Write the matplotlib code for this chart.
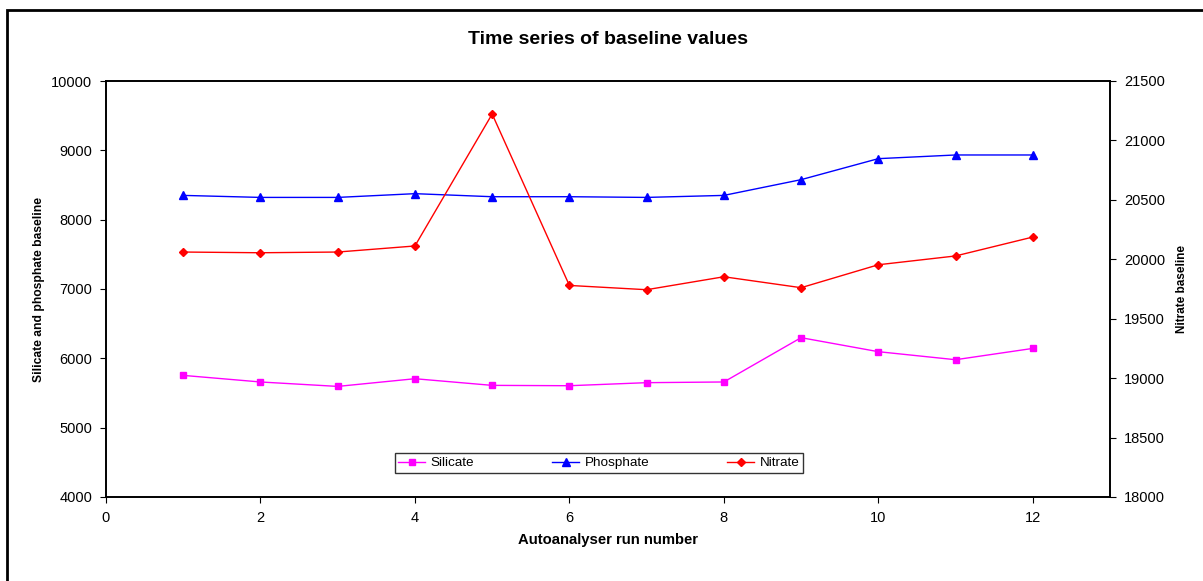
import matplotlib
matplotlib.use("Agg")
import matplotlib.pyplot as plt
from matplotlib.patches import Rectangle

plt.rcParams['font.family'] = ['Liberation Sans', 'DejaVu Sans']

# ===== data =====
runs = [1, 2, 3, 4, 5, 6, 7, 8, 9, 10, 11, 12]
silicate = [5754, 5659, 5595, 5706, 5610, 5605, 5649, 5659, 6298, 6096, 5980, 6143]
phosphate = [8350, 8321, 8321, 8375, 8331, 8331, 8321, 8350, 8577, 8880, 8933, 8933]
nitrate = [20061, 20055, 20061, 20112, 21222, 19780, 19744, 19853, 19761, 19954, 20028, 20187]

fig = plt.figure(figsize=(12.03, 5.81), dpi=100)
ax = fig.add_axes([106/1203, 1 - 497/581, (1110-106)/1203, (497-81)/581])
ax2 = ax.twinx()

l1, = ax.plot(runs, silicate, color='#ff00ff', marker='s', markersize=5, lw=1, label='Silicate')
l2, = ax.plot(runs, phosphate, color='#0000ff', marker='^', markersize=5.5, lw=1, label='Phosphate')
l3, = ax2.plot(runs, nitrate, color='#ff0000', marker='D', markersize=4, lw=1, label='Nitrate')

ax.set_xlim(0, 13)
ax.set_ylim(4000, 10000)
ax2.set_ylim(18000, 21500)
ax.set_xticks([0, 2, 4, 6, 8, 10, 12])
ax.set_yticks(range(4000, 10001, 1000))
ax2.set_yticks(range(18000, 21501, 500))

for a in (ax, ax2):
    a.tick_params(labelsize=10.5, length=4, width=0.8, direction='out', pad=6)
    for s in a.spines.values():
        s.set_linewidth(1.2)

ax.set_ylabel("Silicate and phosphate baseline", fontsize=8.7, fontweight='bold', labelpad=4)
ax2.set_ylabel("Nitrate baseline", fontsize=8.5, fontweight='bold', labelpad=8)
ax.set_xlabel("Autoanalyser run number", fontsize=10.7, fontweight='bold', labelpad=6)
fig.text(608/1203, 1 - 40/581, "Time series of baseline values", ha='center', va='center',
         fontsize=14, fontweight='bold')

leg = fig.legend(handles=[l1, l2, l3], loc='center', bbox_to_anchor=(599/1203, 1 - 463/581),
                 ncol=3, fontsize=9.7, frameon=True, fancybox=False, edgecolor='black',
                 handlelength=2.0, columnspacing=5.8, borderpad=0.25, handletextpad=0.4)
leg.get_frame().set_linewidth(1)

# outer chart border (runs off the right and bottom edges)
fig.patches.append(Rectangle((7/1203, -0.05), 1.1, 1 - 10/581 + 0.05, transform=fig.transFigure,
                             fill=False, edgecolor='black', lw=2))

fig.savefig("out.png", dpi=100)
